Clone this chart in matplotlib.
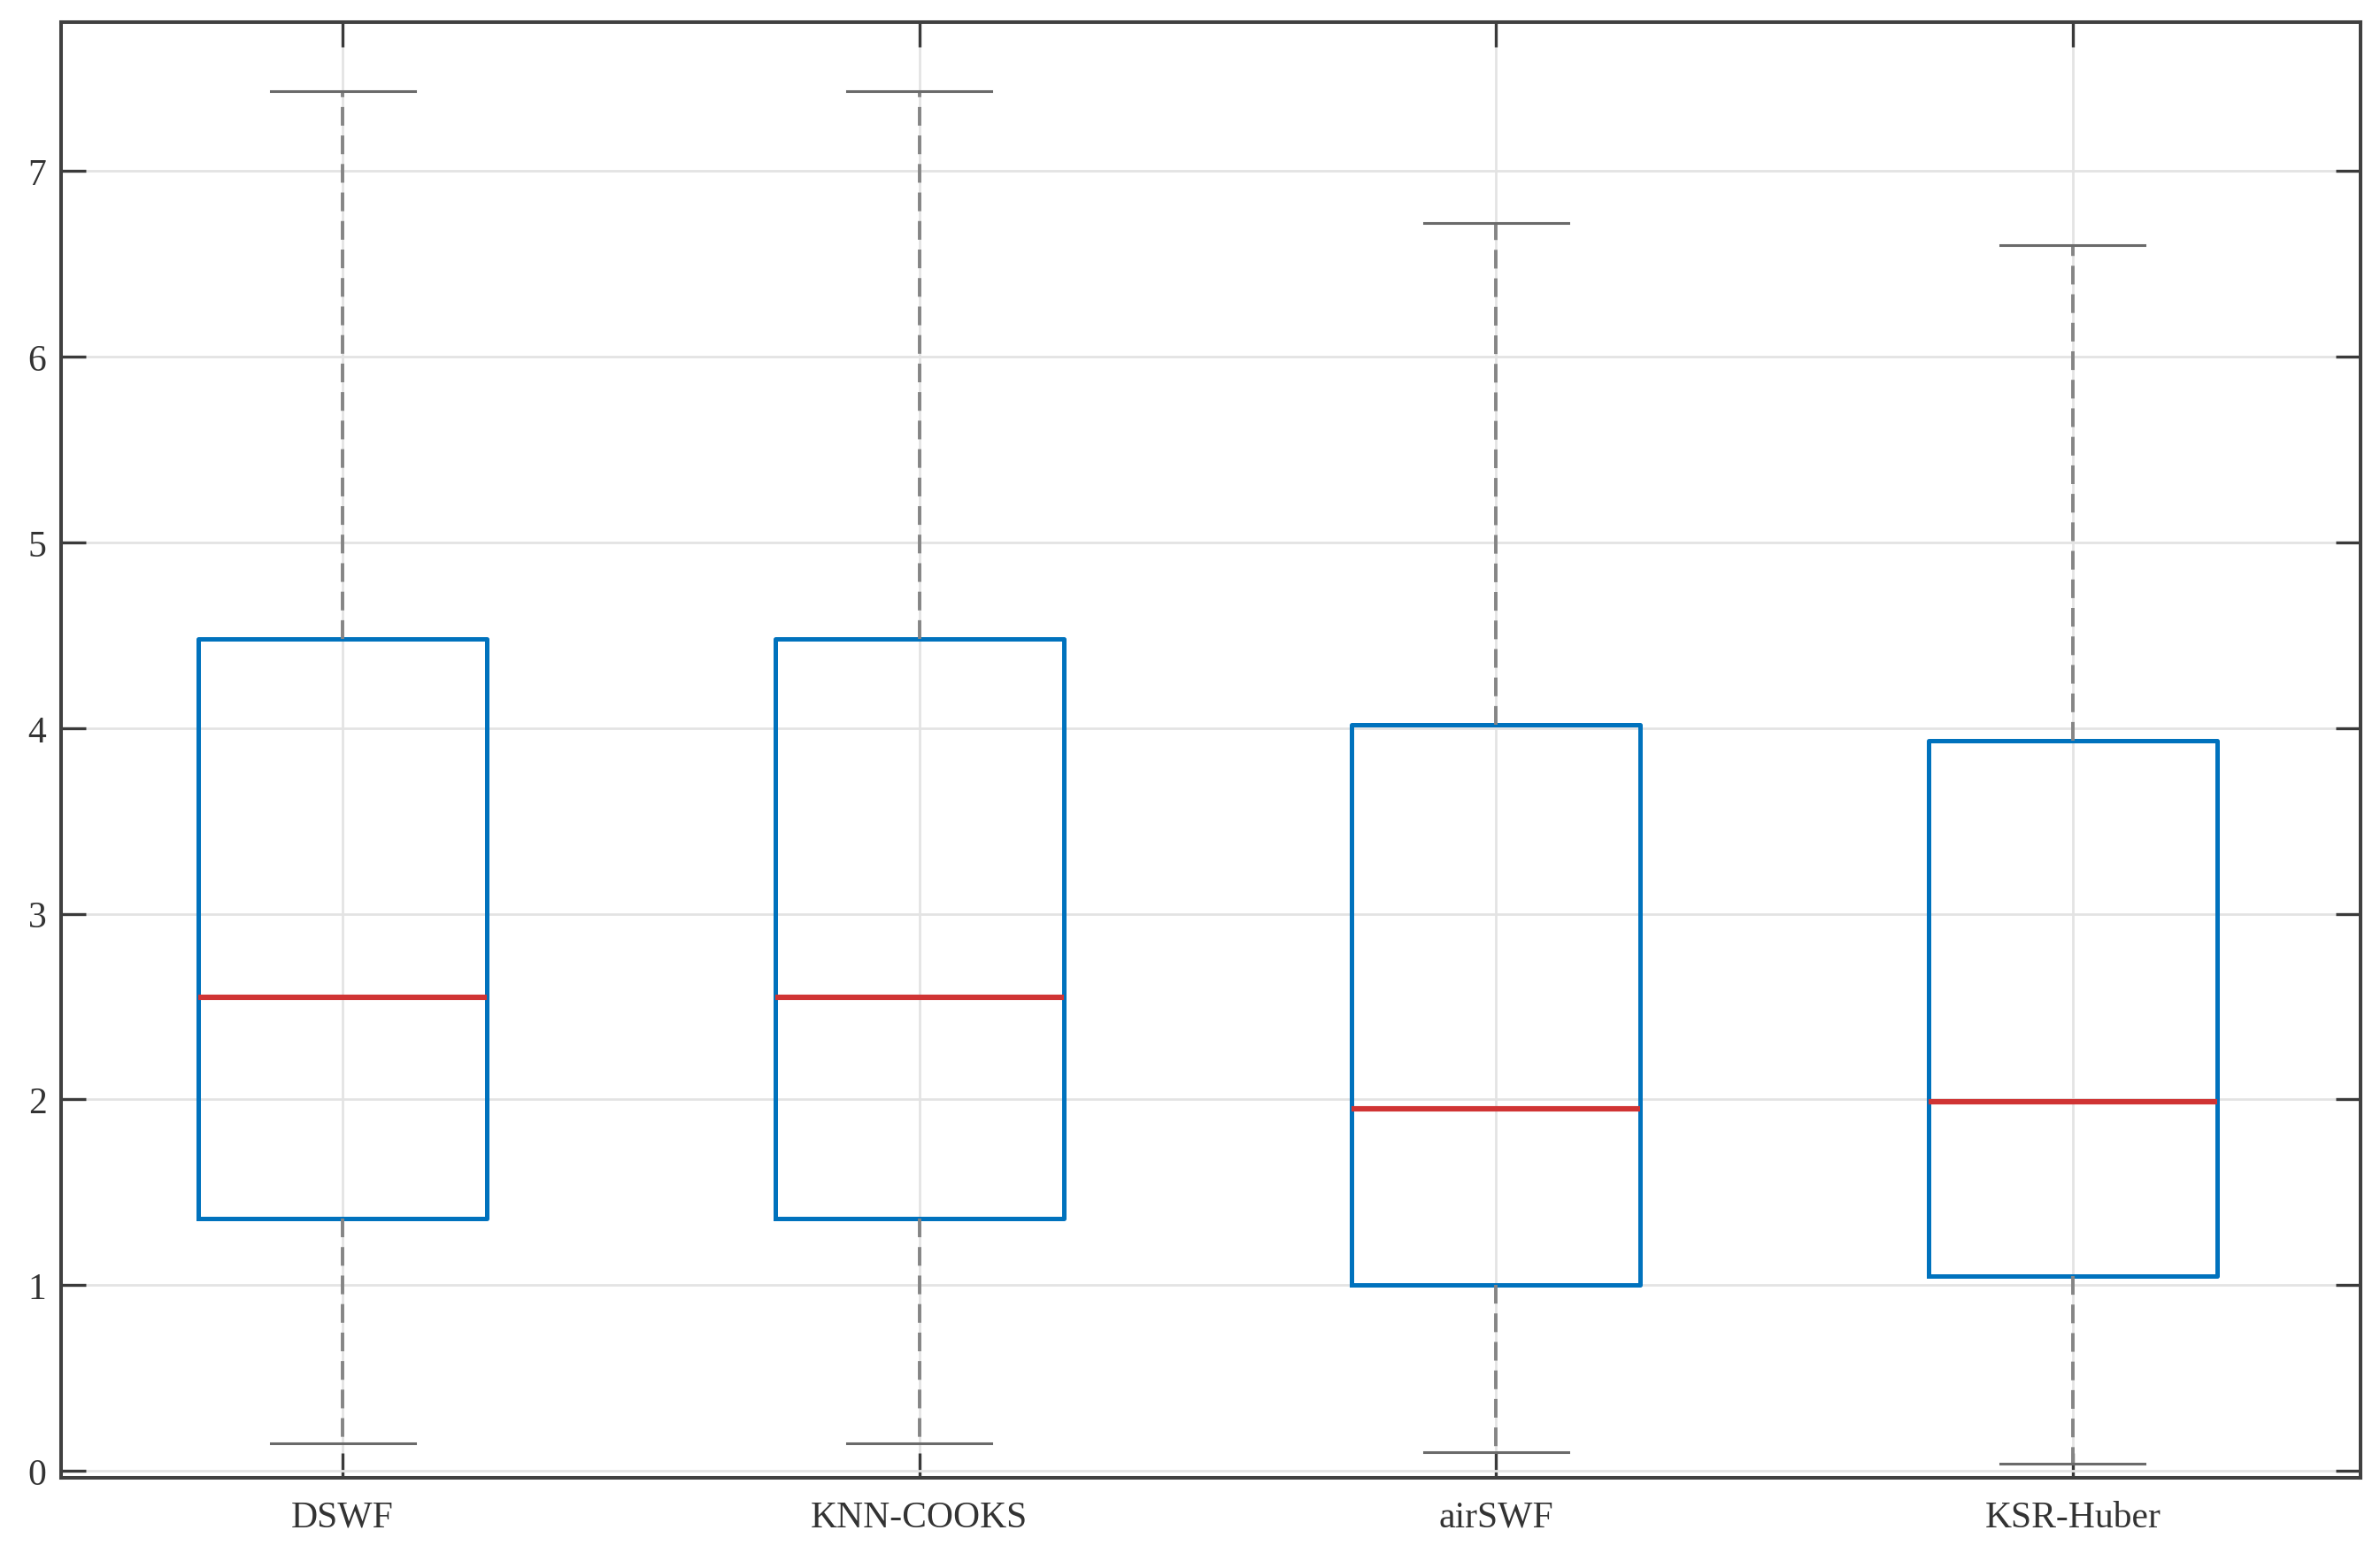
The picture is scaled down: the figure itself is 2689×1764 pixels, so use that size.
import matplotlib.pyplot as plt

methods = ["DSWF", "KNN-COOKS", "airSWF", "KSR-Huber"]
whislo = [0.15, 0.15, 0.10, 0.04]
q1 = [1.36, 1.36, 1.00, 1.05]
med = [2.55, 2.55, 1.95, 1.99]
q3 = [4.48, 4.48, 4.02, 3.93]
whishi = [7.43, 7.43, 6.72, 6.60]

plt.rcParams['font.family'] = ['Liberation Serif', 'DejaVu Serif']
plt.rcParams['lines.scale_dashes'] = False

stats = []
for i in range(len(methods)):
    stats.append({'label': methods[i], 'whislo': whislo[i], 'q1': q1[i], 'med': med[i],
                  'q3': q3[i], 'whishi': whishi[i], 'fliers': []})

fig = plt.figure(figsize=(13.445, 8.825), dpi=200)
ax = fig.add_axes([0.0257, 0.053, 0.992 - 0.0257, 0.985 - 0.053])

ax.bxp(stats, positions=[1, 2, 3, 4], widths=0.5, showfliers=False,
       boxprops=dict(color='#0072BD', linewidth=1.8),
       medianprops=dict(color='#D03434', linewidth=2.2),
       whiskerprops=dict(color='#858585', linewidth=1.4, linestyle=(0, (7.6, 4))),
       capprops=dict(color='#6a6a6a', linewidth=1.1),
       capwidths=0.25, zorder=3)

ax.set_xlim(0.512, 4.5)
ax.set_ylim(-0.04, 7.8)
ax.set_yticks(range(0, 8))
ax.grid(True, color='#e3e3e3', linewidth=1.0)
ax.set_axisbelow(True)

for s in ax.spines.values():
    s.set_color('#404040')
    s.set_linewidth(1.45)
ax.tick_params(direction='in', length=10, width=1.2, color='#3a3a3a',
               top=True, right=True, labelsize=15, labelcolor='#333333')
ax.tick_params(axis='x', pad=9)
ax.tick_params(axis='y', pad=6)

fig.savefig('out.png', dpi=200)
